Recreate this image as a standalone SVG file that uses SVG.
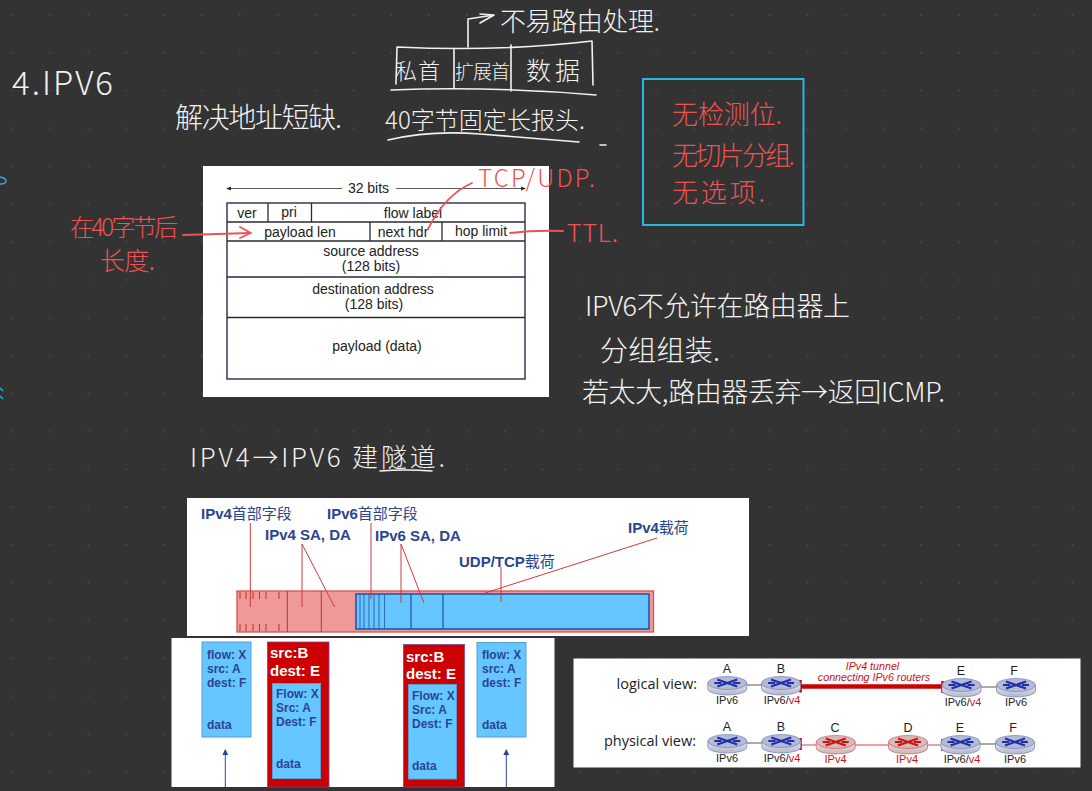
<svg xmlns="http://www.w3.org/2000/svg" width="1092" height="791" viewBox="0 0 1092 791">
<style>
.hw{font-family:"Noto Sans CJK SC","Liberation Sans",sans-serif;font-weight:300;fill:#f2f2f2}
.hr{fill:#ee5353}
.ink{fill:none;stroke:#f2f2f2;stroke-width:1.6;stroke-linecap:round;stroke-linejoin:round}
.rink{fill:none;stroke:#ee5353;stroke-width:1.8;stroke-linecap:round;stroke-linejoin:round}
.panel{fill:#fff}
.cell{fill:none;stroke:#2a2a36;stroke-width:1.3}
.t{font-family:"Liberation Sans",Arial,sans-serif;font-size:14px;fill:#222;text-anchor:middle}
.b{font-family:"Liberation Sans","Noto Sans CJK SC",sans-serif;font-weight:bold;fill:#2b4590}
.lead{fill:none;stroke:#cf3b3b;stroke-width:1}
.pkt{fill:#66c6ff;stroke:#5b9bd5;stroke-width:1}
.red{fill:#cc0000;stroke:#7a4a90;stroke-width:.8}
.w{font-family:"Liberation Sans",sans-serif;font-weight:bold;font-size:15px;fill:#fff}
.d{font-family:"Liberation Sans",sans-serif;font-weight:bold;font-size:12px;fill:#2b4590}
.n{font-family:"Liberation Sans",sans-serif;font-size:11px;fill:#222;text-anchor:middle}
.nl{font-size:12.5px}
.nr{fill:#cc1111}
.v{font-family:"Open Sans","Liberation Sans",sans-serif;font-size:14.500px;fill:#222;text-anchor:end}
</style>
<defs>
<pattern id="dots" width="37.85" height="37.85" patternUnits="userSpaceOnUse" x="-6.2" y="-3.9">
<circle cx="18.9" cy="18.9" r=".8" fill="#5a5a5a"/>
</pattern>
<linearGradient id="gb" x1="0" x2="0" y1="0" y2="1"><stop offset="0" stop-color="#e8e8f2"/><stop offset="1" stop-color="#b4b6c8"/></linearGradient>
<linearGradient id="gr" x1="0" x2="0" y1="0" y2="1"><stop offset="0" stop-color="#f0e4e4"/><stop offset="1" stop-color="#c8b4b4"/></linearGradient>
<g id="r6">
<path d="M-19.500-3v6a19.500 6 0 0 0 39 0v-6z" fill="url(#gb)" stroke="#6f7fc0" stroke-width=".7"/>
<ellipse cy="-3" rx="19.500" ry="6.500" fill="#b7bbd2" stroke="#6f7fc0" stroke-width=".7"/>
<path d="M-10-6.500L10 .5M-10 .5L10-6.500M-13-3H-6M6-3H13" fill="none" stroke="#1b2fb0" stroke-width="2.200"/>
</g>
<g id="r4">
<path d="M-19.500-3v6a19.500 6 0 0 0 39 0v-6z" fill="url(#gr)" stroke="#dd5555" stroke-width=".7"/>
<ellipse cy="-3" rx="19.500" ry="6.500" fill="#d2bcbc" stroke="#dd5555" stroke-width=".7"/>
<path d="M-10-6.500L10 .5M-10 .5L10-6.500M-13-3H-6M6-3H13" fill="none" stroke="#cc1111" stroke-width="2.200"/>
</g>
<marker id="tip" markerWidth="6" markerHeight="6" refX="5" refY="3" orient="auto"><path d="M0 0L6 3L0 6z" fill="#2b4590"/></marker>
<marker id="tip2" markerWidth="6" markerHeight="6" refX="5" refY="3" orient="auto"><path d="M0 .5L6 3L0 5.500z" fill="#222"/></marker>
</defs>
<rect width="1092" height="791" fill="#333333"/>
<rect width="1092" height="791" fill="url(#dots)"/>

<g id="side-marks" fill="none" stroke="#27b6e6" stroke-width="1.3"><path d="M0 177q6 1 6 4t-6 3"/><path d="M0 388l3 3M0 396l3 3"/></g>

<g id="title"><text class="hw" x="12" y="95" font-size="33" textLength="101">4.IPV6</text></g>
<g id="note-address"><text class="hw" x="175" y="128" font-size="28" textLength="167">解决地址短缺.</text></g>

<g id="note-header-box">
<path class="ink" d="M397 47Q500 52 592 41L593 85M391 90Q490 86 596 95M397 47L396 84M454 49L454 88M511 45L511 91"/>
<path class="ink" d="M468 47V19L494 15M480 14L494 15L480 23"/>
<text class="hw" x="500" y="31" font-size="26" textLength="160">不易路由处理.</text>
<text class="hw" x="395" y="79" font-size="22" textLength="45">私首</text>
<text class="hw" x="455" y="79" font-size="19" textLength="55">扩展首</text>
<text class="hw" x="526" y="80" font-size="25" textLength="54">数据</text>
</g>
<g id="note-40">
<text class="hw" x="385" y="129" font-size="24" textLength="200">40字节固定长报头.</text>
<path class="ink" d="M388 140Q430 130 480 134T579 142M600 145H606"/>
</g>

<g id="ipv6-header">
<rect class="panel" x="203" y="166" width="346" height="231"/>
<rect x="227" y="203" width="298" height="176" fill="#fff" stroke="#2a2a50" stroke-width="1.4"/>
<path class="cell" d="M227 222H525M227 241H525M227 277H525M227 317.500H525M268 203V222M311.500 203V222M370 222V241M442 222V241"/>
<path d="M342 188.500H227" stroke="#333" stroke-width=".8" fill="none" marker-end="url(#tip2)"/>
<path d="M396 188.500H525" stroke="#333" stroke-width=".8" fill="none" marker-end="url(#tip2)"/>
<text class="t" x="368.500" y="193">32 bits</text>
<text class="t" x="247" y="218">ver</text>
<text class="t" x="289" y="217">pri</text>
<text class="t" x="413" y="218">flow label</text>
<text class="t" x="300" y="237">payload len</text>
<text class="t" x="403" y="237">next hdr</text>
<text class="t" x="481" y="236">hop limit</text>
<text class="t" x="371" y="256">source address</text>
<text class="t" x="371" y="271">(128 bits)</text>
<text class="t" x="373" y="294">destination address</text>
<text class="t" x="374" y="309">(128 bits)</text>
<text class="t" x="377" y="351">payload (data)</text>
</g>

<g id="header-notes">
<text class="hw hr" x="70" y="236" font-size="24" textLength="108">在40字节后</text>
<text class="hw hr" x="100" y="270" font-size="25" textLength="55">长度.</text>
<text class="hw hr" x="478" y="187" font-size="24" textLength="117">TCP/UDP.</text>
<text class="hw hr" x="567" y="242" font-size="25" textLength="51">TTL.</text>
</g>

<g id="connectors">
<path class="rink" d="M183 235L251 233M240 227L251 233L240 238"/>
<path class="rink" d="M472 183Q445 195 428 229"/>
<path class="rink" d="M510 233Q535 230 563 231"/>
</g>

<g id="limits-box">
<rect x="643" y="79" width="160.500" height="146" fill="none" stroke="#2bb8e0" stroke-width="2"/>
<text class="hw hr" x="672" y="124" font-size="26" textLength="110">无检测位.</text>
<text class="hw hr" x="672" y="165" font-size="26" textLength="123">无切片分组.</text>
<text class="hw hr" x="672" y="202" font-size="26" textLength="93">无选项.</text>
</g>

<g id="note-fragment">
<text class="hw" x="585" y="316" font-size="27" textLength="265">IPV6不允许在路由器上</text>
<text class="hw" x="600" y="361" font-size="28" textLength="120">分组组装.</text>
<text class="hw" x="582" y="402" font-size="27" textLength="363">若太大,路由器丢弃→返回ICMP.</text>
</g>
<g id="note-tunnel">
<text class="hw" x="190" y="467" font-size="26" textLength="255">IPV4→IPV6 建隧道.</text>
<path class="ink" d="M380 471Q405 469 432 471"/>
</g>

<g id="encapsulation">
<rect class="panel" x="187" y="498" width="562" height="138"/>
<rect x="237" y="591" width="416.500" height="41" fill="#ee9a9a" stroke="#d95050" stroke-width="1.3"/>
<rect x="356" y="594" width="293" height="35" fill="#66c6ff" stroke="#1f4fa5" stroke-width="1.5"/>
<path d="M287.300 591V632M321.300 591V632M240 592V599M246 592V599M253 592V599M259.500 592V599M266 592V599M279 592V599M240 624V631M246 624V631M253 624V631M259.500 624V631M266 624V631M279 624V631" stroke="#cc2a2a" stroke-width="1" fill="none"/>
<path d="M360 594V629M364 594V629M369 594V629M374 594V629M379 594V629M384.600 594V629" stroke="#1f4fa5" stroke-width=".8" fill="none"/>
<path d="M411 594V629M443 594V629" stroke="#1f4fa5" stroke-width="1.2" fill="none"/>
<path class="lead" d="M250.300 523V607M302 544V607M302 544L334.600 607M371 523V599M401 544V603M401 544L424 603M501 567V602M657 538L485 593"/>
<text class="b" x="201" y="519" font-size="15">IPv4<tspan font-weight="normal" font-size="15">首部字段</tspan></text>
<text class="b" x="265" y="540" font-size="15">IPv4 SA, DA</text>
<text class="b" x="327" y="519" font-size="15">IPv6<tspan font-weight="normal" font-size="15">首部字段</tspan></text>
<text class="b" x="375" y="541" font-size="15">IPv6 SA, DA</text>
<text class="b" x="459" y="567" font-size="15">UDP/TCP<tspan font-weight="normal" font-size="15">载荷</tspan></text>
<text class="b" x="628" y="533" font-size="15">IPv4<tspan font-weight="normal" font-size="15">载荷</tspan></text>
</g>

<g id="packets">
<rect class="panel" x="171.500" y="638" width="383" height="149"/>
<g id="pkt-a">
<rect class="pkt" x="202" y="642" width="49" height="95"/>
<text class="d" x="207" y="659">flow: X</text><text class="d" x="207" y="673">src: A</text><text class="d" x="207" y="687">dest: F</text><text class="d" x="207" y="729">data</text>
</g>
<g id="pkt-b">
<rect class="red" x="267.500" y="642" width="61.500" height="145"/>
<text class="w" x="270" y="658">src:B</text><text class="w" x="270" y="676">dest: E</text>
<rect class="pkt" x="272.500" y="683.500" width="48" height="95"/>
<text class="d" x="276" y="698">Flow: X</text><text class="d" x="276" y="712">Src: A</text><text class="d" x="276" y="725.500">Dest: F</text><text class="d" x="276" y="768">data</text>
</g>
<g id="pkt-c">
<rect class="red" x="403.500" y="644.500" width="61" height="142.500"/>
<text class="w" x="406" y="662">src:B</text><text class="w" x="406" y="679">dest: E</text>
<rect class="pkt" x="408.500" y="684.500" width="48" height="94.500"/>
<text class="d" x="412" y="700">Flow: X</text><text class="d" x="412" y="714">Src: A</text><text class="d" x="412" y="728">Dest: F</text><text class="d" x="412" y="770">data</text>
</g>
<g id="pkt-d">
<rect class="pkt" x="477" y="642.500" width="49" height="94.500"/>
<text class="d" x="482" y="659">flow: X</text><text class="d" x="482" y="673">src: A</text><text class="d" x="482" y="687">dest: F</text><text class="d" x="482" y="729">data</text>
</g>
<path d="M225.300 787V750" stroke="#2b4590" stroke-width="1" fill="none" marker-end="url(#tip)"/>
<path d="M506.300 787V750" stroke="#2b4590" stroke-width="1" fill="none" marker-end="url(#tip)"/>
</g>

<g id="tunnel-views">
<rect class="panel" x="573.500" y="658.500" width="507" height="109"/>
<text class="v" x="697" y="689">logical view:</text>
<text class="v" x="696" y="746">physical view:</text>
<g id="tunnel-links" fill="none">
<path d="M740 685H765M975 687H1000M740 743H765M975 744H1000" stroke="#555" stroke-width="1"/>
<path d="M800 686.500H943" stroke="#cc0000" stroke-width="4.500"/>
<path d="M800 745H943" stroke="#dd4444" stroke-width="1"/>
<path d="M800.500 680V692.500M942.500 681V693M800.500 738V750M942.500 739V751" stroke="#cc0000" stroke-width="2.500"/>
</g>
<text x="872.500" y="670" font-family="Liberation Sans,sans-serif" font-style="italic" font-size="10.700" fill="#cc1111" text-anchor="middle">IPv4 tunnel</text>
<text x="874" y="681" font-family="Liberation Sans,sans-serif" font-style="italic" font-size="10.700" fill="#cc1111" text-anchor="middle">connecting IPv6 routers</text>
<g id="l-a"><use href="#r6" x="727.300" y="686"/><text class="n nl" x="727" y="673">A</text><text class="n" x="727" y="704">IPv6</text></g>
<g id="l-b"><use href="#r6" x="781" y="686"/><text class="n nl" x="781" y="673">B</text><text class="n" x="782" y="704">IPv6/<tspan class="nr">v4</tspan></text></g>
<g id="l-e"><use href="#r6" x="961.500" y="688"/><text class="n nl" x="961" y="675">E</text><text class="n" x="963" y="706">IPv6/<tspan class="nr">v4</tspan></text></g>
<g id="l-f"><use href="#r6" x="1016" y="688"/><text class="n nl" x="1014" y="675">F</text><text class="n" x="1016" y="706">IPv6</text></g>
<g id="p-a"><use href="#r6" x="727.300" y="744"/><text class="n nl" x="727" y="731">A</text><text class="n" x="727" y="762">IPv6</text></g>
<g id="p-b"><use href="#r6" x="781.300" y="744"/><text class="n nl" x="781" y="731">B</text><text class="n" x="782" y="762">IPv6/<tspan class="nr">v4</tspan></text></g>
<g id="p-c"><use href="#r4" x="835.700" y="745"/><text class="n nl" x="835" y="732">C</text><text class="n nr" x="835.500" y="763">IPv4</text></g>
<g id="p-d"><use href="#r4" x="908" y="745"/><text class="n nl" x="908" y="732">D</text><text class="n nr" x="907" y="763">IPv4</text></g>
<g id="p-e"><use href="#r6" x="960.500" y="745"/><text class="n nl" x="960" y="732">E</text><text class="n" x="962" y="763">IPv6/<tspan class="nr">v4</tspan></text></g>
<g id="p-f"><use href="#r6" x="1015" y="745"/><text class="n nl" x="1013" y="732">F</text><text class="n" x="1015" y="763">IPv6</text></g>
</g>
</svg>
